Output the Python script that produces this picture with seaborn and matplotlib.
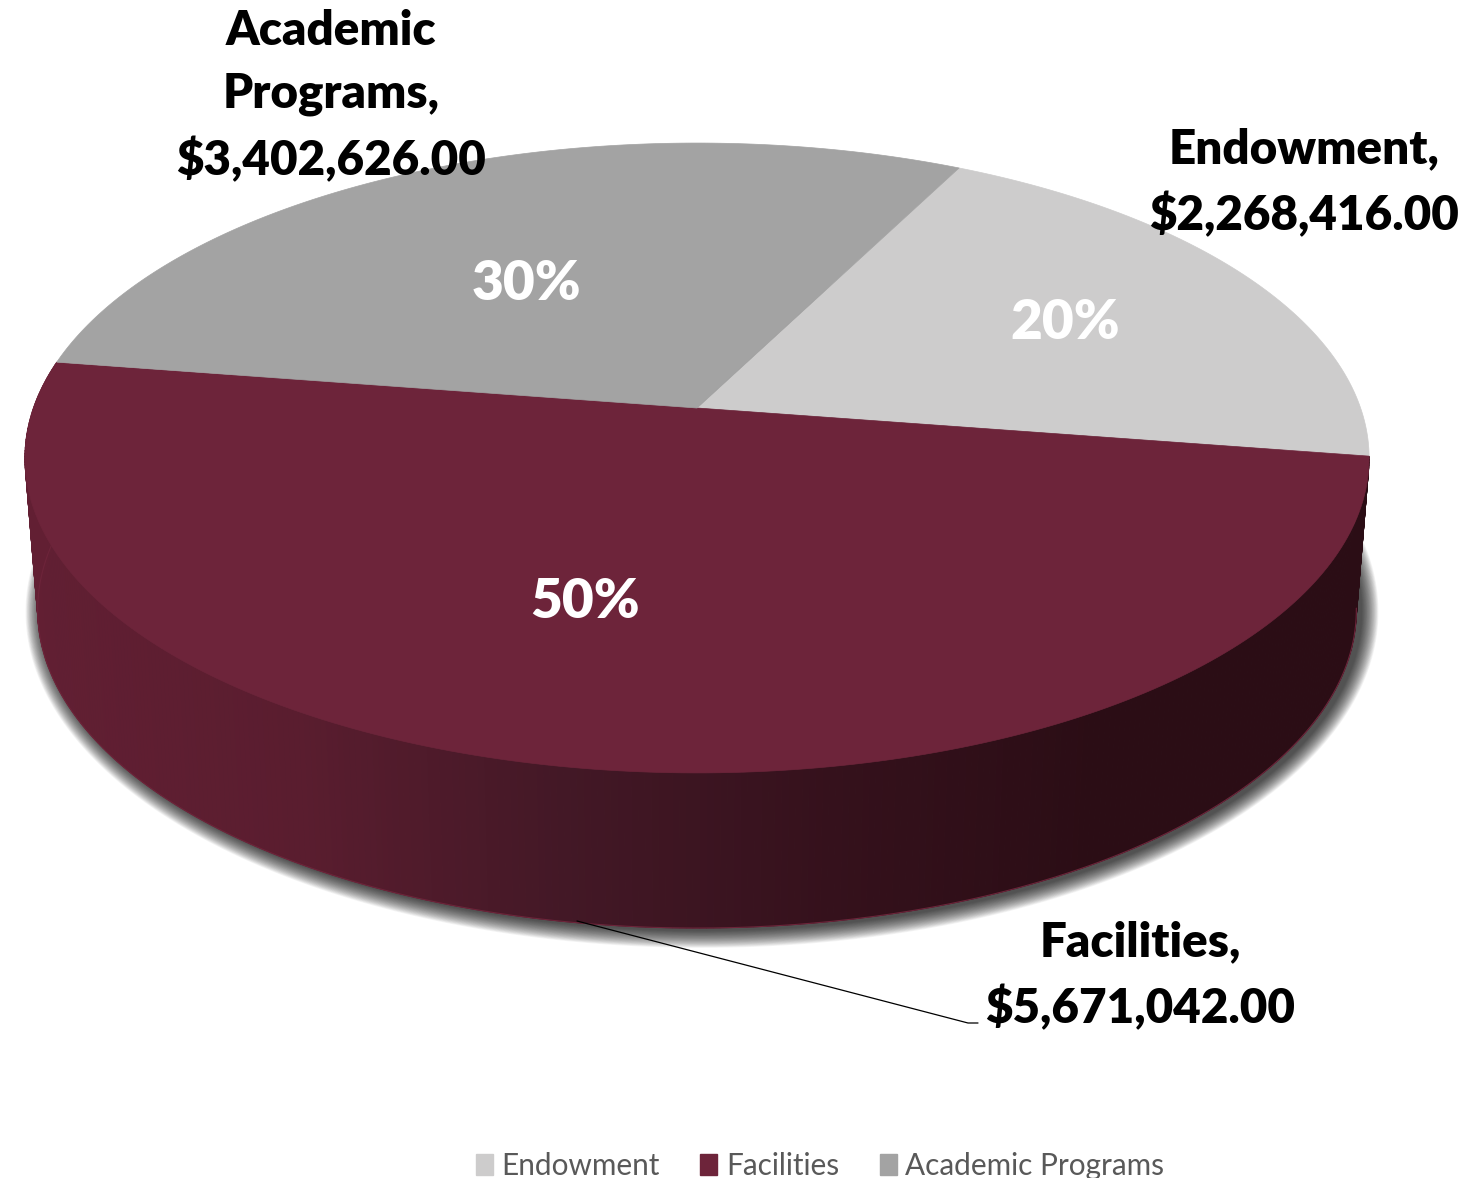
"""3D looking budget pie: top face is a perspective projected circle, rim is a shaded strip."""
import matplotlib.pyplot as plt
import numpy as np
import seaborn as sns
from matplotlib.patches import Patch

categories = ["Endowment", "Facilities", "Academic Programs"]
amounts = [2268416.00, 5671042.00, 3402626.00]
slice_colors = ["#cdcccc", "#6d243a", "#a3a3a3"]
label_names = ["Endowment,", "Facilities,", "Academic\nPrograms,"]

# text anchors in pixels (x, y of centre)
value_label_pos = [(1304, 183), (1140, 976), (331, 96)]
pct_label_pos = [(1065, 323), (585, 602), (526, 284)]

# pie geometry in pixels, fitted from the picture
START_ANGLE = 63.2
CX, CY = 697.0, 408.0
RX, RY, PERSP = 663.6, 307.0, 0.1587
DEPTH = 152.0

FONT = "Lato"
LABEL_SIZE = 34.2
PCT_SIZE = 39.5
LEGEND_SIZE = 21.4


def project(theta_deg):
    t = np.radians(theta_deg)
    w = 1 + PERSP * np.sin(t)
    return CX + RX * np.cos(t) / w, CY - RY * np.sin(t) / w


def project_lower(theta_deg):
    # rim bottom: same circle pushed down and slightly shrunk
    x, y = project(theta_deg)
    return CX + (x - CX) * 0.981, y + DEPTH + (y - (CY + 50)) * 0.01


sns.set_theme(style="white")
plt.rcParams["font.family"] = [FONT, "DejaVu Sans"]

fig = plt.figure(figsize=(14.76, 11.78), dpi=100)
ax = fig.add_axes([0, 0, 1, 1])
ax.set_xlim(0, 1476)
ax.set_ylim(1178, 0)
ax.axis("off")

fractions = np.array(amounts) / sum(amounts)
edges = START_ANGLE - np.concatenate([[0], np.cumsum(fractions)]) * 360

# soft shadow under the rim
ring = np.linspace(0, 360, 361)
lx, ly = project_lower(ring)
mid_y = ly.min() / 2 + ly.max() / 2
n_shadow = 24
for i in range(n_shadow):
    grow = (n_shadow - i) / n_shadow
    sx = CX + 5 + (lx - CX) * (1 + 0.026 * grow)
    sy = mid_y + 2 + (ly - mid_y) * (1 + 0.056 * grow)
    ax.fill(sx, sy, color="black", alpha=0.045, lw=0, zorder=1)

# rim of the front slice, darkening left to right
rim_cmap = sns.blend_palette(["#621f33", "#5a1d2f", "#431826", "#35111c", "#2b0d15", "#2b0d15"], as_cmap=True)
front = np.linspace(edges[1], edges[2], 361)
for a0, a1 in zip(front[:-1], front[1:]):
    ux, uy = project(np.array([a0, a1]))
    bx, by = project_lower(np.array([a0, a1]))
    shade = rim_cmap((ux.mean() - 25) / 1343)
    ax.fill([ux[0], ux[1], bx[1], bx[0]], [uy[0], uy[1], by[1], by[0]],
            facecolor=shade, edgecolor=shade, lw=0.6, zorder=2)
bx, by = project_lower(front)
ax.plot(bx, by, color="#6d243a", lw=0.8, zorder=3)

# top face
for i, color in enumerate(slice_colors):
    arc = np.linspace(edges[i], edges[i + 1], 200)
    ax_, ay_ = project(arc)
    ax.fill(np.r_[CX, ax_], np.r_[CY, ay_], facecolor=color, edgecolor=color, lw=0.5, zorder=4)

for i, name in enumerate(label_names):
    x, y = value_label_pos[i]
    ax.text(x, y, f"{name}\n${amounts[i]:,.2f}", ha="center", va="center", color="black",
            fontsize=LABEL_SIZE, fontweight="heavy", linespacing=1.54, zorder=6)
    x, y = pct_label_pos[i]
    ax.text(x, y, f"{fractions[i]:.0%}", ha="center", va="center", color="white",
            fontsize=PCT_SIZE, fontweight="heavy", zorder=6)

# leader line for the facilities label
ax.plot([577, 968, 978], [921, 1023, 1023], color="black", lw=0.9, zorder=5)

handles = [Patch(facecolor=c, edgecolor=c, label=n) for c, n in zip(slice_colors, categories)]
ax.legend(handles=handles, loc="center", bbox_to_anchor=(820, 1166), bbox_transform=ax.transData,
          ncols=3, frameon=False, fontsize=LEGEND_SIZE, labelcolor="#595959",
          handlelength=0.57, handleheight=0.7, handletextpad=0.28, columnspacing=1.38)

fig.savefig("out.png", dpi=100)
